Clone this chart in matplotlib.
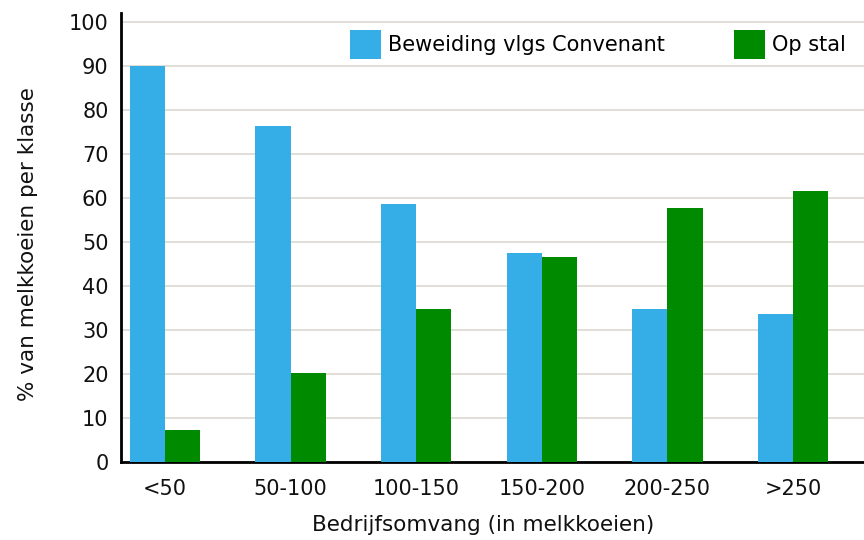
import matplotlib
matplotlib.use("Agg")
import matplotlib.pyplot as plt
import numpy as np

categories = ["<50", "50-100", "100-150", "150-200", "200-250", ">250"]
beweiding = [90.0, 76.4, 58.6, 47.5, 34.8, 33.6]
op_stal = [7.3, 20.2, 34.8, 46.6, 57.7, 61.6]
yticks = [0, 10, 20, 30, 40, 50, 60, 70, 80, 90, 100]

blue = "#35AEE7"
green = "#008A00"

plt.rcParams['font.family'] = ['DejaVu Sans']
fig = plt.figure(figsize=(8.64, 5.4), dpi=100)
ax = fig.add_axes([121/864, 1 - 462/540, (864 - 121)/864, (462 - 13)/540])

x = np.arange(len(categories))
w = 0.28
ax.bar(x - w/2, beweiding, w, color=blue, label="Beweiding vlgs Convenant", zorder=3)
ax.bar(x + w/2, op_stal, w, color=green, label="Op stal", zorder=3)

ax.set_xlim(-0.35, 5.565)
ax.set_ylim(0, 102)
ax.set_yticks(yticks)
ax.set_yticklabels([str(t) for t in yticks], fontsize=15, color="#111111")
ax.set_xticks(x)
ax.set_xticklabels(categories, fontsize=15, color="#111111")
ax.tick_params(axis='both', length=0)
ax.tick_params(axis='y', pad=9)
ax.tick_params(axis='x', pad=12)
ax.yaxis.grid(True, color="#DCD8D0", linewidth=1.2, zorder=0)
ax.set_axisbelow(True)
for s in ["top", "right"]:
    ax.spines[s].set_visible(False)
for s in ["left", "bottom"]:
    ax.spines[s].set_linewidth(2)
    ax.spines[s].set_color("#000000")

ax.set_ylabel("% van melkkoeien per klasse", fontsize=15.5, color="#111111")
ax.yaxis.set_label_coords(-121/743 + 28/743, (462 - 244)/449)
ax.set_xlabel("Bedrijfsomvang (in melkkoeien)", fontsize=15.5, color="#111111")
ax.xaxis.set_label_coords((483 - 121)/743, -(525 - 462)/449)
ax.xaxis.label.set_va('center')
ax.yaxis.label.set_va('center')

leg = ax.legend(loc="upper left", bbox_to_anchor=((350 - 121)/743, (462 - 30)/449), ncol=2,
                frameon=False, fontsize=15, handlelength=1.5, handleheight=1.8,
                columnspacing=3.3, handletextpad=0.34, borderpad=0, borderaxespad=0)

fig.savefig("out.png", dpi=100)
